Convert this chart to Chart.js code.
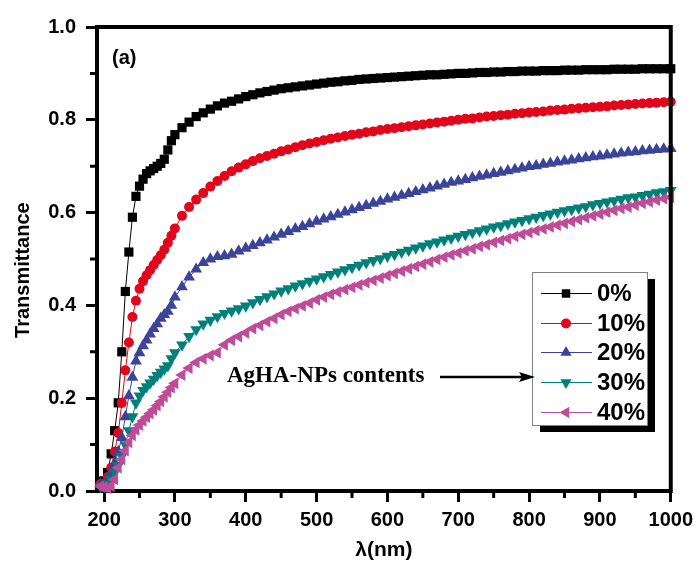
<!DOCTYPE html>
<html>
<head>
<meta charset="utf-8">
<script src="https://cdn.jsdelivr.net/npm/chart.js@4.4.1/dist/chart.umd.min.js"></script>
<style>
  html, body { margin: 0; padding: 0; background: #ffffff; }
  #wrap { width: 699px; height: 564px; position: relative; }
</style>
</head>
<body>
<div id="wrap"><canvas id="c" width="699" height="564"></canvas></div>
<script>
// ---- data ----
const wavelengths = [195,200,205,210,215,220,225,230,235,240,245,250,255,260,265,270,275,280,285,290,295,300,
  310,320,330,340,350,360,370,380,390,400,410,420,430,440,450,460,470,480,490,500,
  510,520,530,540,550,560,570,580,590,600,610,620,630,640,650,660,670,680,690,700,
  710,720,730,740,750,760,770,780,790,800,810,820,830,840,850,860,870,880,890,900,
  910,920,930,940,950,960,970,980,990,1000];

const seriesNames = ['0%', '10%', '20%', '30%', '40%'];

const t0 = [0.02,0.022,0.04,0.08,0.13,0.19,0.30,0.43,0.515,0.59,0.635,0.657,0.672,0.684,0.69,0.695,0.70,0.706,0.715,0.735,0.755,0.768,
  0.783,0.795,0.807,0.815,0.823,0.83,0.836,0.84,0.845,0.85,0.854,0.858,0.861,0.864,0.867,0.869,0.871,0.873,0.875,0.877,
  0.879,0.881,0.882,0.884,0.885,0.887,0.888,0.889,0.89,0.891,0.892,0.893,0.894,0.895,0.896,0.897,0.897,0.898,0.899,0.9,
  0.9,0.901,0.902,0.902,0.903,0.903,0.904,0.904,0.905,0.905,0.905,0.906,0.906,0.906,0.907,0.907,0.907,0.908,0.908,0.908,
  0.908,0.909,0.909,0.909,0.909,0.91,0.91,0.91,0.91,0.91];

const t10 = [0.015,0.015,0.03,0.05,0.085,0.125,0.19,0.26,0.32,0.375,0.41,0.436,0.452,0.465,0.476,0.487,0.498,0.508,0.52,0.535,0.55,0.566,
  0.593,0.612,0.628,0.642,0.656,0.668,0.679,0.689,0.697,0.704,0.711,0.717,0.722,0.727,0.732,0.736,0.741,0.745,0.749,0.752,
  0.756,0.759,0.762,0.765,0.768,0.77,0.773,0.775,0.778,0.78,0.782,0.784,0.786,0.788,0.79,0.792,0.794,0.796,0.798,0.8,
  0.802,0.803,0.805,0.807,0.808,0.81,0.811,0.813,0.814,0.816,0.817,0.818,0.82,0.821,0.822,0.824,0.825,0.826,0.827,0.828,
  0.829,0.831,0.832,0.833,0.834,0.835,0.836,0.837,0.838,0.839];

const t20 = [0.015,0.012,0.02,0.04,0.06,0.085,0.115,0.16,0.205,0.245,0.28,0.298,0.313,0.325,0.338,0.35,0.36,0.372,0.38,0.387,0.4,0.418,
  0.44,0.461,0.478,0.492,0.5,0.505,0.507,0.51,0.517,0.523,0.529,0.535,0.541,0.547,0.553,0.559,0.565,0.57,0.576,0.581,
  0.586,0.591,0.596,0.601,0.606,0.611,0.615,0.62,0.624,0.629,0.633,0.637,0.641,0.645,0.649,0.653,0.657,0.661,0.665,0.668,
  0.671,0.675,0.678,0.681,0.684,0.687,0.69,0.693,0.696,0.699,0.701,0.704,0.706,0.709,0.711,0.713,0.716,0.718,0.72,0.722,
  0.724,0.726,0.728,0.73,0.731,0.733,0.734,0.736,0.737,0.738];

const t30 = [0.01,0.01,0.015,0.025,0.04,0.055,0.075,0.1,0.13,0.16,0.19,0.205,0.217,0.225,0.233,0.241,0.249,0.256,0.263,0.27,0.285,0.298,
  0.315,0.333,0.348,0.36,0.368,0.376,0.383,0.388,0.393,0.399,0.406,0.413,0.419,0.425,0.431,0.436,0.442,0.447,0.452,0.457,
  0.462,0.467,0.472,0.477,0.482,0.487,0.492,0.497,0.501,0.506,0.51,0.515,0.519,0.524,0.528,0.533,0.537,0.541,0.545,0.549,
  0.553,0.557,0.561,0.565,0.569,0.572,0.576,0.58,0.583,0.587,0.59,0.594,0.597,0.601,0.604,0.607,0.61,0.613,0.617,0.62,
  0.623,0.626,0.629,0.632,0.634,0.637,0.64,0.643,0.645,0.648];

const t40 = [0.01,0.008,0.006,0.01,0.025,0.05,0.068,0.087,0.105,0.12,0.132,0.142,0.151,0.159,0.167,0.175,0.184,0.193,0.203,0.213,0.223,0.232,
  0.25,0.265,0.277,0.285,0.292,0.298,0.315,0.325,0.333,0.341,0.35,0.357,0.365,0.372,0.38,0.387,0.393,0.399,0.405,0.412,
  0.418,0.424,0.429,0.434,0.439,0.444,0.449,0.454,0.459,0.464,0.469,0.474,0.479,0.484,0.489,0.494,0.499,0.504,0.509,0.513,
  0.518,0.522,0.527,0.531,0.536,0.54,0.544,0.549,0.553,0.557,0.561,0.565,0.569,0.573,0.577,0.581,0.585,0.589,0.593,0.597,
  0.601,0.605,0.609,0.612,0.616,0.62,0.623,0.627,0.63,0.633];

const xTickValues = [200,300,400,500,600,700,800,900,1000];
const xMinorTicks = [250,350,450,550,650,750,850,950];
const yTickValues = [0.0,0.2,0.4,0.6,0.8,1.0];
const yMinorTicks = [0.1,0.3,0.5,0.7,0.9];

const annotationText = 'AgHA-NPs contents';
const panelLabel = '(a)';

// ---- styles ----
const colors = ['#000000', '#e3061b', '#3b4499', '#00807a', '#c04b98'];
const pointStyles = ['rect', 'circle', 'triangle', 'triangle', 'triangle'];
const rotations = [0, 0, 0, 180, 270];
const radii = [6.5, 5, 6.8, 6.8, 6.8];
const legendRadii = [6, 5, 6.5, 6.5, 6.5];
const allSeries = [t0, t10, t20, t30, t40];

const SANS = '"Liberation Sans", Arial, Helvetica, sans-serif';
const SERIF = '"Liberation Serif", "Times New Roman", serif';

const datasets = allSeries.map((s, k) => ({
  label: seriesNames[k],
  data: wavelengths.map((w, i) => ({ x: w, y: s[i] })),
  borderColor: colors[k],
  backgroundColor: colors[k],
  borderWidth: 1,
  pointStyle: pointStyles[k],
  pointRotation: rotations[k],
  pointRadius: radii[k],
  pointBorderWidth: 0,
  pointBackgroundColor: colors[k],
  pointBorderColor: colors[k],
  tension: 0,
  clip: false,
  order: 4 - k
}));

function drawMarker(ctx, k, x, y) {
  const opts = { pointStyle: pointStyles[k], rotation: rotations[k], radius: legendRadii[k], borderWidth: 0 };
  ctx.save();
  ctx.fillStyle = colors[k];
  ctx.strokeStyle = colors[k];
  if (Chart.helpers && Chart.helpers.drawPoint) {
    Chart.helpers.drawPoint(ctx, opts, x, y);
  } else {
    ctx.beginPath();
    ctx.arc(x, y, legendRadii[k], 0, Math.PI * 2);
    ctx.fill();
  }
  ctx.restore();
}

const decorations = {
  id: 'decorations',
  afterDraw(chart) {
    const ctx = chart.ctx;
    const a = chart.chartArea;
    const xs = chart.scales.x, ys = chart.scales.y;
    ctx.save();
    // frame top / right
    ctx.strokeStyle = '#000';
    ctx.lineWidth = 4;
    ctx.beginPath();
    ctx.moveTo(a.left - 2, a.top);
    ctx.lineTo(a.right, a.top);
    ctx.lineTo(a.right, a.bottom + 2);
    ctx.stroke();
    // minor ticks
    ctx.lineWidth = 3;
    ctx.beginPath();
    xMinorTicks.forEach(v => {
      const px = xs.getPixelForValue(v);
      ctx.moveTo(px, a.bottom);
      ctx.lineTo(px, a.bottom + 7);
    });
    yMinorTicks.forEach(v => {
      const py = ys.getPixelForValue(v);
      ctx.moveTo(a.left, py);
      ctx.lineTo(a.left - 7, py);
    });
    ctx.stroke();

    // panel label
    ctx.fillStyle = '#000';
    ctx.font = 'bold 20px ' + SANS;
    ctx.textAlign = 'left';
    ctx.textBaseline = 'middle';
    ctx.fillText(panelLabel, 112, 58);

    // legend box with shadow
    const lx = 532, ly = 272, lw = 115, lh = 153;
    ctx.fillStyle = '#000';
    ctx.fillRect(lx + 8, ly + 7, lw, lh);
    ctx.fillStyle = '#fff';
    ctx.fillRect(lx, ly, lw, lh);
    ctx.strokeStyle = '#808080';
    ctx.lineWidth = 1;
    ctx.strokeRect(lx + 0.5, ly + 0.5, lw, lh);
    const rowY = [293, 323, 352, 382, 412];
    seriesNames.forEach((name, k) => {
      const y = rowY[k];
      ctx.strokeStyle = colors[k];
      ctx.lineWidth = 1;
      ctx.beginPath();
      ctx.moveTo(541, y + 0.5);
      ctx.lineTo(592, y + 0.5);
      ctx.stroke();
      drawMarker(ctx, k, 566, y + 0.5);
      ctx.fillStyle = '#000';
      ctx.font = 'bold 24px ' + SANS;
      ctx.textAlign = 'left';
      ctx.textBaseline = 'middle';
      ctx.fillText(name, 597, y + 1);
    });

    // annotation text and arrow
    ctx.fillStyle = '#000';
    ctx.font = 'bold 23px ' + SERIF;
    ctx.textAlign = 'left';
    ctx.textBaseline = 'alphabetic';
    ctx.fillText(annotationText, 227, 382);
    ctx.strokeStyle = '#000';
    ctx.lineWidth = 2.5;
    ctx.beginPath();
    ctx.moveTo(440, 377);
    ctx.lineTo(522, 377);
    ctx.stroke();
    ctx.beginPath();
    ctx.moveTo(535, 377);
    ctx.lineTo(519, 372);
    ctx.lineTo(522, 377);
    ctx.lineTo(519, 382);
    ctx.closePath();
    ctx.fillStyle = '#000';
    ctx.fill();
    ctx.restore();
  }
};

new Chart(document.getElementById('c'), {
  type: 'line',
  data: { datasets },
  options: {
    responsive: false,
    animation: false,
    devicePixelRatio: 1,
    layout: { padding: { left: 0, right: 27, top: 27, bottom: 0 } },
    plugins: { legend: { display: false }, tooltip: { enabled: false }, title: { display: false } },
    elements: { line: { tension: 0 } },
    scales: {
      x: {
        type: 'linear',
        min: 190,
        max: 1000,
        afterFit(scale) { scale.height = 73; },
        border: { display: true, color: '#000', width: 4 },
        grid: { display: true, drawOnChartArea: false, drawTicks: true, tickLength: 11, tickWidth: 3, tickColor: '#000' },
        afterBuildTicks(scale) { scale.ticks = xTickValues.map(v => ({ value: v })); },
        ticks: {
          color: '#000',
          font: { family: SANS, size: 20, weight: 'bold' },
          padding: 6,
          maxRotation: 0,
          autoSkip: false,
          includeBounds: false,
          callback: v => String(v)
        },
        title: {
          display: true,
          text: 'λ(nm)',
          color: '#000',
          font: { family: SANS, size: 21, weight: 'bold' },
          padding: { top: 0, bottom: 1 }
        }
      },
      y: {
        type: 'linear',
        min: 0,
        max: 1,
        afterFit(scale) { scale.width = 97; },
        border: { display: true, color: '#000', width: 4 },
        grid: { display: true, drawOnChartArea: false, drawTicks: true, tickLength: 11, tickWidth: 3, tickColor: '#000' },
        afterBuildTicks(scale) { scale.ticks = yTickValues.map(v => ({ value: v })); },
        ticks: {
          color: '#000',
          font: { family: SANS, size: 20, weight: 'bold' },
          padding: 10,
          autoSkip: false,
          callback: v => Number(v).toFixed(1)
        },
        title: {
          display: true,
          text: 'Transmittance    ',
          color: '#000',
          font: { family: SANS, size: 20, weight: 'bold' },
          padding: { top: 11, bottom: 0 }
        }
      }
    }
  },
  plugins: [decorations]
});
</script>
</body>
</html>
